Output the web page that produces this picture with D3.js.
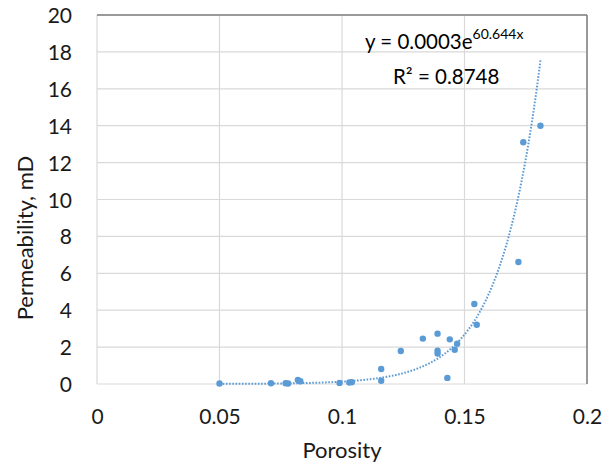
<!DOCTYPE html>
<html>
<head>
<meta charset="utf-8">
<script src="https://cdn.jsdelivr.net/npm/d3@7"></script>
<style>
  html, body { margin: 0; padding: 0; background: #fff; }
  svg { display: block; font-family: Lato, "Open Sans", sans-serif; }
</style>
</head>
<body>
<svg id="chart" width="614" height="465"></svg>
<script>
// Porosity vs permeability samples
const porosity = [0.050, 0.071, 0.077, 0.078, 0.082, 0.083, 0.099, 0.103, 0.104,
  0.116, 0.116, 0.124, 0.133, 0.139, 0.139, 0.139, 0.143, 0.144, 0.146, 0.147,
  0.154, 0.155, 0.172, 0.174, 0.181];
const permeability = [0.03, 0.04, 0.04, 0.03, 0.22, 0.15, 0.06, 0.08, 0.10,
  0.81, 0.18, 1.79, 2.46, 2.73, 1.80, 1.65, 0.33, 2.42, 1.86, 2.18,
  4.34, 3.21, 6.61, 13.1, 14.0];

// Exponential trendline coefficients y = a * e^(b x)
const trendA = 0.0003;
const trendB = 60.644;
const rSquared = "0.8748";

const xTicks = [0, 0.05, 0.1, 0.15, 0.2];
const xTickLabels = ["0", "0.05", "0.1", "0.15", "0.2"];
const yTicks = [0, 2, 4, 6, 8, 10, 12, 14, 16, 18, 20];

const svg = d3.select("#chart");
const plotL = 97, plotR = 587, plotT = 15, plotB = 384;
const blue = "#5b9bd5";
const textColor = "#1a1a1a";

const x = d3.scaleLinear().domain([0, 0.2]).range([plotL, plotR]);
const y = d3.scaleLinear().domain([0, 20]).range([plotB, plotT]);

// Gridlines
const grid = svg.append("g");
grid.selectAll("line.h").data(yTicks).join("line").attr("class", "h")
  .attr("x1", plotL).attr("x2", plotR)
  .attr("y1", d => y(d)).attr("y2", d => y(d))
  .attr("stroke", "#d9d9d9").attr("stroke-width", 1.2);
grid.selectAll("line.v").data(xTicks).join("line").attr("class", "v")
  .attr("y1", plotT).attr("y2", plotB)
  .attr("x1", d => x(d)).attr("x2", d => x(d))
  .attr("stroke", "#d9d9d9").attr("stroke-width", 1.2);

// Plot frame: darker top and right edges
svg.append("line").attr("x1", plotL).attr("x2", plotR).attr("y1", plotT).attr("y2", plotT)
  .attr("stroke", "#7f7f7f").attr("stroke-width", 1.5);
svg.append("line").attr("x1", plotR).attr("x2", plotR).attr("y1", plotT).attr("y2", plotB)
  .attr("stroke", "#7f7f7f").attr("stroke-width", 1.5);

// Axes (labels only)
const xAxis = svg.append("g").attr("transform", `translate(0,${plotB})`)
  .call(d3.axisBottom(x).tickValues(xTicks).tickFormat((d, i) => xTickLabels[i]).tickSize(0).tickPadding(0));
xAxis.select(".domain").remove();
xAxis.selectAll("text").attr("y", 40).attr("dy", null)
  .attr("font-size", 21).attr("fill", textColor).attr("font-family", "Lato, sans-serif");

const yAxis = svg.append("g").attr("transform", `translate(${plotL},0)`)
  .call(d3.axisLeft(y).tickValues(yTicks).tickFormat(d3.format("d")).tickSize(0).tickPadding(0));
yAxis.select(".domain").remove();
yAxis.selectAll("text").attr("x", -25).attr("dy", "0.36em")
  .attr("font-size", 21).attr("fill", textColor).attr("font-family", "Lato, sans-serif");

// Axis titles
svg.append("text").attr("x", (plotL + plotR) / 2).attr("y", 458)
  .attr("text-anchor", "middle").attr("font-size", 22).attr("fill", textColor)
  .text("Porosity");
svg.append("text").attr("transform", "translate(33,238) rotate(-90)")
  .attr("text-anchor", "middle").attr("font-size", 22).attr("fill", textColor)
  .text("Permeability, mD");

// Trendline across the data range
const xMin = d3.min(porosity), xMax = d3.max(porosity);
const trendXs = d3.range(0, 201).map(i => xMin + (xMax - xMin) * i / 200);
svg.append("path")
  .datum(trendXs)
  .attr("fill", "none").attr("stroke", blue).attr("stroke-width", 2)
  .attr("stroke-dasharray", "1.6 1.6")
  .attr("d", d3.line().x(d => x(d)).y(d => y(trendA * Math.exp(trendB * d))));

// Data points
svg.append("g").selectAll("circle").data(porosity).join("circle")
  .attr("cx", d => x(d)).attr("cy", (d, i) => y(permeability[i]))
  .attr("r", 3.2).attr("fill", blue);

// Trendline equation and R²
const eq = svg.append("text").attr("x", 365).attr("y", 49)
  .attr("font-size", 20.5).attr("fill", "#000");
eq.append("tspan").text(`y = ${trendA}e`);
eq.append("tspan").attr("font-size", 14).attr("dy", -10).text(`${trendB}x`);

svg.append("text").attr("x", 393).attr("y", 84)
  .attr("font-size", 20.5).attr("fill", "#000")
  .text(`R² = ${rSquared}`);
</script>
</body>
</html>
